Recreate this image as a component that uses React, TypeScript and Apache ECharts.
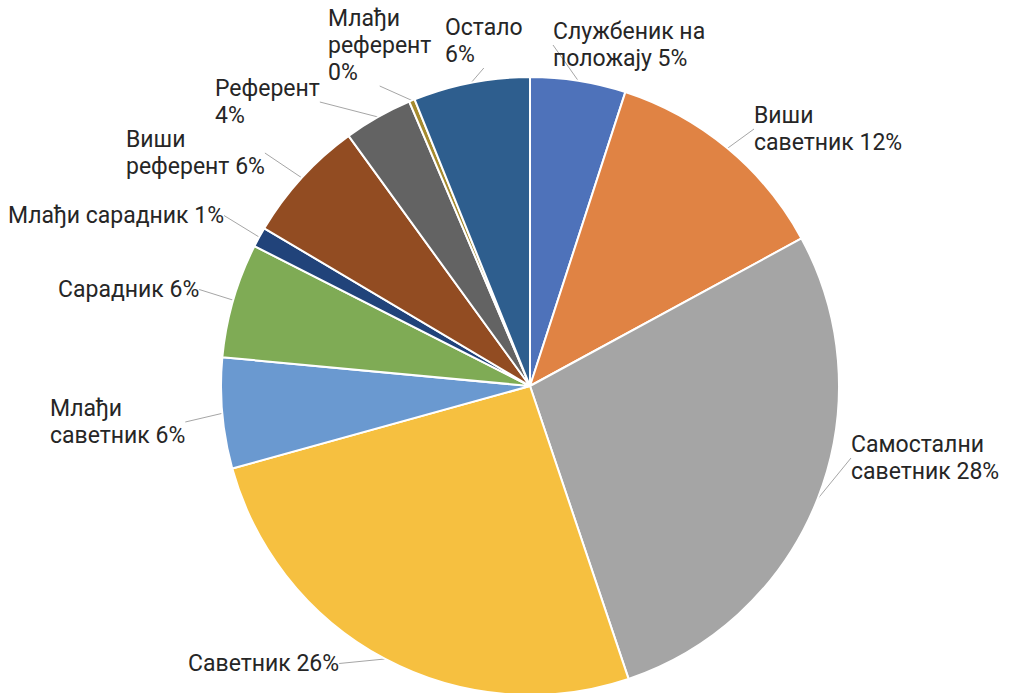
import React, { useEffect, useRef } from "react";
import * as echarts from "echarts";

const categories = [
  "Службеник на положају",
  "Виши саветник",
  "Самостални саветник",
  "Саветник",
  "Млађи саветник",
  "Сарадник",
  "Млађи сарадник",
  "Виши референт",
  "Референт",
  "Млађи референт",
  "Остало",
];
const labelTexts = [
  "Службеник на\nположају",
  "Виши\nсаветник",
  "Самостални\nсаветник",
  "Саветник",
  "Млађи\nсаветник",
  "Сарадник",
  "Млађи сарадник",
  "Виши\nреферент",
  "Референт\n",
  "Млађи\nреферент\n",
  "Остало\n",
];
const values = [5.0, 12.1, 27.8, 25.9, 5.8, 6.0, 1.05, 6.5, 3.6, 0.3, 6.1];
const colors = [
  "#4E72BA",
  "#E08344",
  "#A5A5A5",
  "#F6C040",
  "#6A99D0",
  "#7FAB55",
  "#21437A",
  "#924C22",
  "#636363",
  "#A58A2E",
  "#2E5E8E",
];
// label box top-left positions (layout only)
const labelPos: [number, number][] = [
  [553, 18],
  [754, 102],
  [851, 431],
  [188, 650],
  [50, 395],
  [58, 276],
  [8, 202],
  [126, 126],
  [215, 75],
  [328, 5],
  [445, 14],
];

export default function App() {
  const ref = useRef<HTMLDivElement>(null);
  useEffect(() => {
    if (!ref.current) return;
    const chart = echarts.init(ref.current, undefined, { renderer: "svg" });
    const total = values.reduce((a, b) => a + b, 0);
    chart.setOption({
      animation: false,
      backgroundColor: "#ffffff",
      series: [
        {
          type: "pie",
          center: [530, 386],
          radius: 309,
          startAngle: 90,
          clockwise: true,
          avoidLabelOverlap: false,
          data: categories.map((c, i) => ({
            name: c,
            value: values[i],
            itemStyle: { color: colors[i] },
          })),
          itemStyle: { borderColor: "#ffffff", borderWidth: 2 },
          label: {
            show: true,
            position: "outside",
            fontFamily: "Roboto",
            fontSize: 23,
            lineHeight: 27,
            color: "#262626",
            align: "left",
            formatter: (p: any) => {
              const t = labelTexts[p.dataIndex];
              const pct = Math.round((values[p.dataIndex] / total) * 100) + "%";
              return t.endsWith("\n") ? t + pct : t + " " + pct;
            },
          },
          labelLine: {
            show: true,
            length: 20,
            length2: 0,
            lineStyle: { color: "#A6A6A6", width: 1 },
          },
          labelLayout: (p: any) => {
            const pos = labelPos[p.dataIndex];
            return { x: pos[0], y: pos[1], align: "left", verticalAlign: "top" };
          },
        },
      ],
    });
    return () => chart.dispose();
  }, []);
  return (
    <div
      ref={ref}
      style={{ position: "fixed", left: 0, top: 0, width: 1011, height: 693 }}
    />
  );
}
